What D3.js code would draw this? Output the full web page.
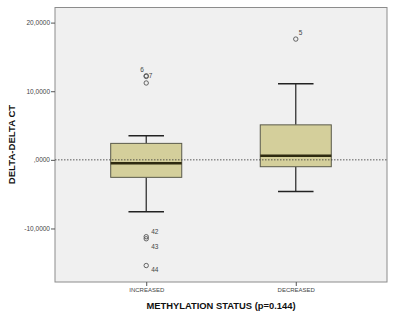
<!DOCTYPE html>
<html>
<head>
<meta charset="utf-8">
<script src="https://cdn.jsdelivr.net/npm/d3@7"></script>
<style>
  body { margin: 0; background: #fff; }
  svg { display: block; font-family: Arial, "Liberation Sans", sans-serif; }
</style>
</head>
<body>
<svg width="396" height="318"></svg>
<script>
  // box plot values
  const categories = ['INCREASED', 'DECREASED'];
  const q1 = [-2.55, -1.0];
  const median = [-0.5, 0.6];
  const q3 = [2.4, 5.1];
  const whiskerLow = [-7.55, -4.6];
  const whiskerHigh = [3.5, 11.1];
  const outliers = [
    [ {v: 12.25, id: '6'}, {v: 12.15, id: '7'}, {v: 11.2, id: ''},
      {v: -11.2, id: '42'}, {v: -11.5, id: '43'}, {v: -15.4, id: '44'} ],
    [ {v: 17.6, id: '5'} ]
  ];
  const yTicks = [-10, 0, 10, 20];
  const yTickLabels = ['-10,0000', ',0000', '10,0000', '20,0000'];

  const svg = d3.select('svg');
  const margin = { top: 7.5, right: 9, bottom: 36, left: 55 };
  const width = +svg.attr('width');
  const height = +svg.attr('height');
  const innerWidth = width - margin.left - margin.right;
  const innerHeight = height - margin.top - margin.bottom;

  const g = svg.append('g')
    .attr('transform', `translate(${margin.left},${margin.top})`);

  const xScale = d3.scalePoint()
    .domain(categories)
    .range([0, innerWidth])
    .padding(0.61);

  const yScale = d3.scaleLinear()
    .domain([-17.8, 22.2])
    .range([innerHeight, 0]);

  const boxWidth = xScale.step() * 0.475;
  const capWidth = boxWidth / 2;

  // plot background
  g.append('rect')
    .attr('width', innerWidth)
    .attr('height', innerHeight)
    .attr('fill', '#f0f0f0')
    .attr('stroke', '#8c8c8c')
    .attr('stroke-width', 1);

  // y axis
  const yAxis = d3.axisLeft(yScale)
    .tickValues(yTicks)
    .tickSize(4)
    .tickPadding(1)
    .tickFormat((d, i) => yTickLabels[i]);
  const yAxisG = g.append('g').call(yAxis);
  yAxisG.select('.domain').remove();
  yAxisG.selectAll('line').attr('stroke', '#555');
  yAxisG.selectAll('text')
    .attr('fill', '#444')
    .style('font-size', '6.5px');

  // x axis
  const xAxis = d3.axisBottom(xScale).tickSize(4).tickPadding(2);
  const xAxisG = g.append('g')
    .attr('transform', `translate(0,${innerHeight})`)
    .call(xAxis);
  xAxisG.select('.domain').remove();
  xAxisG.selectAll('line').attr('stroke', '#555');
  xAxisG.selectAll('text')
    .attr('fill', '#444')
    .style('font-size', '6px');

  // boxes
  const boxes = g.selectAll('.box').data(categories)
    .enter().append('g')
      .attr('class', 'box')
      .attr('transform', d => `translate(${xScale(d)},0)`);

  boxes.append('line')
    .attr('y1', (d, i) => yScale(q3[i]))
    .attr('y2', (d, i) => yScale(whiskerHigh[i]))
    .attr('stroke', '#222').attr('stroke-width', 1.2);
  boxes.append('line')
    .attr('y1', (d, i) => yScale(q1[i]))
    .attr('y2', (d, i) => yScale(whiskerLow[i]))
    .attr('stroke', '#222').attr('stroke-width', 1.2);
  boxes.append('line')
    .attr('x1', -capWidth / 2).attr('x2', capWidth / 2)
    .attr('y1', (d, i) => yScale(whiskerHigh[i]))
    .attr('y2', (d, i) => yScale(whiskerHigh[i]))
    .attr('stroke', '#222').attr('stroke-width', 1.5);
  boxes.append('line')
    .attr('x1', -capWidth / 2).attr('x2', capWidth / 2)
    .attr('y1', (d, i) => yScale(whiskerLow[i]))
    .attr('y2', (d, i) => yScale(whiskerLow[i]))
    .attr('stroke', '#222').attr('stroke-width', 1.5);

  boxes.append('rect')
    .attr('x', -boxWidth / 2)
    .attr('width', boxWidth)
    .attr('y', (d, i) => yScale(q3[i]))
    .attr('height', (d, i) => yScale(q1[i]) - yScale(q3[i]))
    .attr('fill', '#d4cf9b')
    .attr('stroke', '#5a5a4a')
    .attr('stroke-width', 1);

  boxes.append('line')
    .attr('x1', -boxWidth / 2).attr('x2', boxWidth / 2)
    .attr('y1', (d, i) => yScale(median[i]))
    .attr('y2', (d, i) => yScale(median[i]))
    .attr('stroke', '#2e2a10').attr('stroke-width', 2.4);

  // outliers
  boxes.each(function(d, i) {
    const sel = d3.select(this);
    sel.selectAll('circle').data(outliers[i])
      .enter().append('circle')
        .attr('cx', 0)
        .attr('cy', o => yScale(o.v))
        .attr('r', 2.2)
        .attr('fill', 'none')
        .attr('stroke', '#555')
        .attr('stroke-width', 0.9);
  });

  // outlier labels (positions as SPSS staggers them)
  const labelPos = {
    '6': [-6, -4], '7': [2.5, 2], '42': [5, -3], '43': [5, 10], '44': [5, 6], '5': [3, -4]
  };
  boxes.each(function(d, i) {
    d3.select(this).selectAll('.olabel')
      .data(outliers[i].filter(o => o.id !== ''))
      .enter().append('text')
        .attr('class', 'olabel')
        .attr('x', o => labelPos[o.id][0])
        .attr('y', o => yScale(o.v) + labelPos[o.id][1])
        .attr('fill', '#444')
        .style('font-size', '6.5px')
        .text(o => o.id);
  });

  // dashed reference line at zero
  g.append('line')
    .attr('x1', 0).attr('x2', innerWidth)
    .attr('y1', yScale(0)).attr('y2', yScale(0))
    .attr('stroke', '#333')
    .attr('stroke-width', 0.8)
    .attr('stroke-dasharray', '1.5,1.5');

  // axis titles
  svg.append('text')
    .attr('x', 221)
    .attr('y', 309)
    .attr('text-anchor', 'middle')
    .attr('fill', '#111')
    .style('font-size', '9.4px')
    .style('font-weight', 'bold')
    .text('METHYLATION STATUS (p=0.144)');

  svg.append('text')
    .attr('transform', 'translate(15,144.5) rotate(-90)')
    .attr('text-anchor', 'middle')
    .attr('fill', '#111')
    .style('font-size', '9.6px')
    .style('font-weight', 'bold')
    .text('DELTA-DELTA CT');
</script>
</body>
</html>
